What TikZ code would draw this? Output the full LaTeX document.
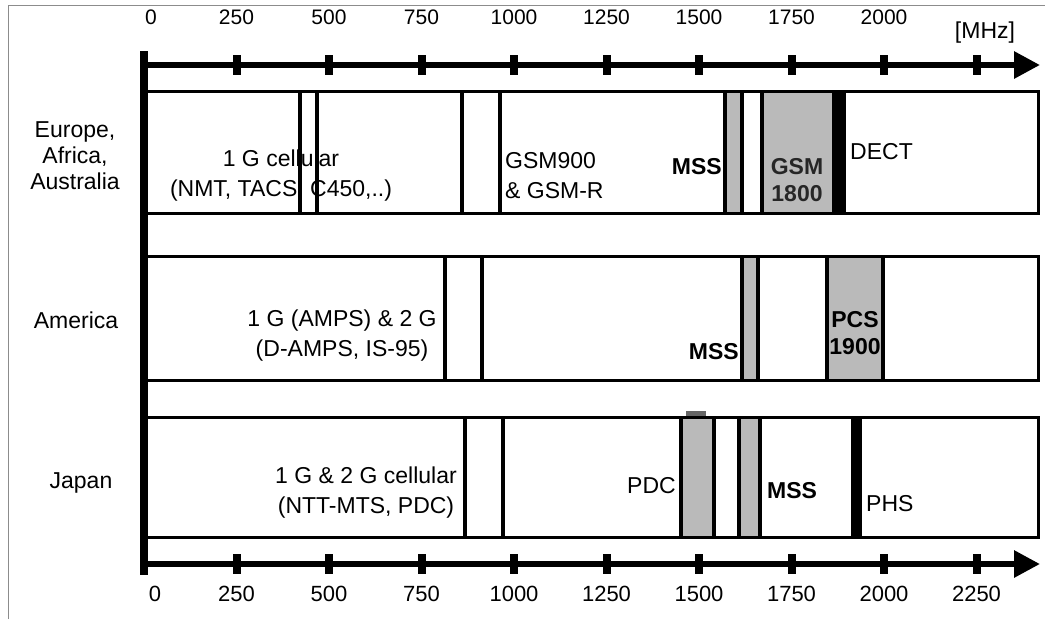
\documentclass[tikz,border=0pt]{standalone}
\usepackage{fontspec}
\setmainfont{Liberation Sans}
\usetikzlibrary{arrows.meta, positioning, calc}

\begin{document}
\begin{tikzpicture}[
        x=1pt, y=-1pt,
        lbl/.style={font=\fontsize{23}{30}\selectfont, inner sep=0pt, align=center},
        boldlbl/.style={lbl, font=\fontsize{23}{27}\selectfont\bfseries},
        toplbl/.style={font=\fontsize{21}{24}\selectfont, inner sep=0pt},
        botlbl/.style={font=\fontsize{22}{25}\selectfont, inner sep=0pt},
        freqaxis/.style={line width=6pt, -{Triangle[length=26pt, width=26pt]}},
        axtick/.style={line width=8pt},
        rowbox/.style={draw, line width=3pt},
        sepline/.style={line width=3.5pt},
        greyband/.style={fill=black!27}
    ]
    \useasboundingbox (0,0) rectangle (1051,619);

    % scan frame
    \draw[black!45, line width=1pt] (8,619) -- (8,5) -- (1045,5);

    % frequency axes
    \coordinate (tstart) at (144,65);
    \coordinate (tend) at (1040,65);
    \coordinate (bstart) at (144,564);
    \coordinate (bend) at (1040,564);
    \draw[freqaxis] (tstart) -- (tend);
    \draw[freqaxis] (bstart) -- (bend);
    \foreach \k in {1,...,9} {
        \draw[axtick] ($(tstart)+(92.5*\k,-10)$) -- ($(tstart)+(92.5*\k,10)$);
        \draw[axtick] ($(bstart)+(92.5*\k,-10)$) -- ($(bstart)+(92.5*\k,10)$);
    }
    \draw[line width=8pt] (144,51) -- (144,575);

    \node[toplbl] (t0) at (151,17) {0};
    \foreach \v [count=\k] in {250,500,...,2000}
        \node[toplbl] (t\v) at (144+92.5*\k,17) {\v};
    \node[lbl] (unit) at (985,33) {[MHz]};

    \node[botlbl] (b0) at (155,594) {0};
    \foreach \v [count=\k] in {250,500,...,2250}
        \node[botlbl] (b\v) at (144+92.5*\k,594) {\v};

    % Europe, Africa, Australia
    \fill[greyband] (725,91) rectangle (742,213);
    \fill[greyband] (762,91) rectangle (832,213);
    \fill[black] (832,91) rectangle (846,213);
    \foreach \x in {300,317,462,500,725,742,762}
        \draw[sepline] (\x,91) -- (\x,213);
    \draw[rowbox] (144,91) rectangle (1038,213);

    % America
    \fill[greyband] (742,256) rectangle (758,380);
    \fill[greyband] (827,256) rectangle (883,380);
    \foreach \x in {445,482,742,758,827,883}
        \draw[sepline] (\x,256) -- (\x,380);
    \draw[rowbox] (144,256) rectangle (1038,380);

    % Japan
    \fill[greyband] (681,417) rectangle (714,537);
    \fill[greyband] (739,417) rectangle (760,537);
    \fill[black] (851,417) rectangle (862,537);
    \fill[black!60] (686,411) rectangle (706,417);
    \foreach \x in {465,503,681,714,739,760}
        \draw[sepline] (\x,417) -- (\x,537);
    \draw[rowbox] (144,417) rectangle (1038,537);

    % region names
    \node[lbl, font=\fontsize{23}{26}\selectfont] (eu) at (75,156) {Europe,\\Africa,\\Australia};
    \node[lbl] (am) at (76,320) {America};
    \node[lbl] (jp) at (81,483) {Japan};

    % band labels
    \node[lbl] (e1g) at (281,176) {1 G cellular\\(NMT, TACS, C450,..)};
    \node[lbl, anchor=west, align=left] (egsm) at (505,176) {GSM900\\\& GSM-R};
    \node[boldlbl, anchor=east] (emss) at (722,167) {MSS};
    \node[boldlbl, text=black!85] (egsm18) at (797,180) {GSM\\1800};
    \node[lbl, anchor=west] (edect) at (850,152) {DECT};

    \node[lbl] (a1g) at (342,336) {1 G (AMPS) \& 2 G\\(D-AMPS, IS-95)};
    \node[boldlbl, anchor=east] (amss) at (739,352) {MSS};
    \node[boldlbl] (apcs) at (855,333) {PCS\\1900};

    \node[lbl] (j1g) at (366,493) {1 G \& 2 G cellular\\(NTT-MTS, PDC)};
    \node[lbl, anchor=east] (jpdc) at (676,486) {PDC};
    \node[boldlbl, anchor=west] (jmss) at (767,491) {MSS};
    \node[lbl, anchor=west] (jphs) at (866,504) {PHS};
\end{tikzpicture}
\end{document}
